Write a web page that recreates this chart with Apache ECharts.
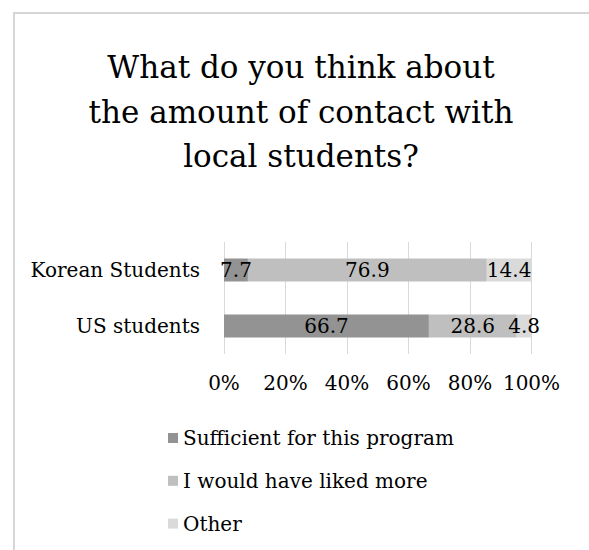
<!DOCTYPE html>
<html>
<head>
<meta charset="utf-8">
<script src="https://cdn.jsdelivr.net/npm/echarts@6/dist/echarts.min.js"></script>
<style>
html,body{margin:0;padding:0;background:#fff;}
#chart{width:589px;height:550px;}
</style>
</head>
<body>
<div id="chart"></div>
<script>
const titleText = 'What do you think about\nthe amount of contact with\nlocal students?';
const categories = ['Korean Students', 'US students'];
const seriesNames = ['Sufficient for this program', 'I would have liked more', 'Other'];
const sufficient = [7.7, 66.7];
const likedMore = [76.9, 28.6];
const other = [14.4, 4.8];
const xTicks = ['0%', '20%', '40%', '60%', '80%', '100%'];

const colors = ['#939393', '#bfbfbf', '#dadada'];
const FONT = 'DejaVu Serif';
const raw = [sufficient, likedMore, other];
const totals = categories.map((c, i) => raw.reduce((s, arr) => s + arr[i], 0));

const chart = echarts.init(document.getElementById('chart'), null, {renderer: 'svg'});
chart.setOption({
  animation: false,
  backgroundColor: '#fff',
  title: {
    text: titleText,
    left: 301,
    top: 45,
    padding: 0,
    textAlign: 'center',
    textStyle: {fontFamily: FONT, fontSize: 31, fontWeight: 'normal', color: '#000', lineHeight: 44.5}
  },
  graphic: [
    {type: 'line', silent: true, shape: {x1: 13, y1: 13, x2: 589, y2: 13}, style: {stroke: '#d6d6d6', lineWidth: 2}},
    {type: 'line', silent: true, shape: {x1: 14, y1: 12, x2: 14, y2: 550}, style: {stroke: '#d6d6d6', lineWidth: 2}}
  ],
  legend: {
    orient: 'vertical',
    left: 163,
    top: 423,
    itemWidth: 10,
    itemHeight: 10,
    itemGap: 22.8,
    icon: 'rect',
    data: seriesNames,
    textStyle: {fontFamily: FONT, fontSize: 20, color: '#000', lineHeight: 20}
  },
  grid: {left: 224, right: 57.5, top: 242, height: 112, containLabel: false},
  xAxis: {
    type: 'value', min: 0, max: 100, interval: 20,
    axisLine: {show: false}, axisTick: {show: false},
    splitLine: {show: true, lineStyle: {color: '#d9d9d9', width: 1}},
    axisLabel: {
      margin: 19, fontFamily: FONT, fontSize: 20, color: '#000',
      formatter: (v) => xTicks[Math.round(v / 20)]
    }
  },
  yAxis: {
    type: 'category', data: categories, inverse: true,
    axisLine: {show: false}, axisTick: {show: false}, splitLine: {show: false},
    axisLabel: {margin: 24, fontFamily: FONT, fontSize: 20, color: '#000'}
  },
  series: seriesNames.map((name, k) => ({
    name: name,
    type: 'bar',
    stack: 'total',
    barWidth: 23,
    itemStyle: {color: colors[k]},
    label: {
      show: true, position: 'inside', fontFamily: FONT, fontSize: 20, color: '#000',
      formatter: (p) => raw[k][p.dataIndex].toFixed(1)
    },
    data: raw[k].map((v, i) => v / totals[i] * 100)
  }))
});
</script>
</body>
</html>
